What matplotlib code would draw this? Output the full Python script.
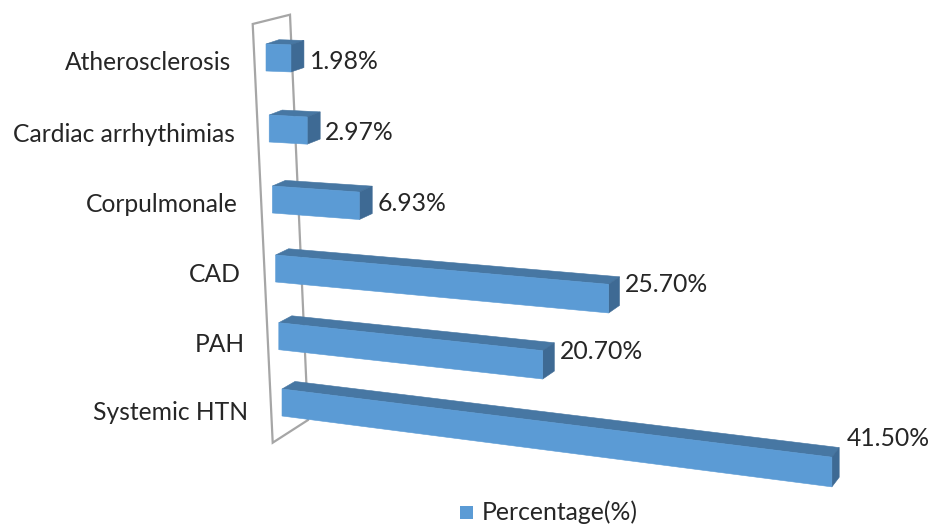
import matplotlib
matplotlib.use("Agg")
import matplotlib.pyplot as plt
from matplotlib.patches import Polygon, Rectangle

plt.rcParams["font.family"] = ["Lato", "DejaVu Sans"]

# bottom row first
categories = ["Systemic HTN", "PAH", "CAD", "Corpulmonale", "Cardiac arrhythimias", "Atherosclerosis"]
percentages = [41.50, 20.70, 25.70, 6.93, 2.97, 1.98]
value_labels = ["41.50%", "20.70%", "25.70%", "6.93%", "2.97%", "1.98%"]

FRONT = "#5B9BD5"
TOP = "#4777A3"
SIDE = "#3E6A94"
WALL = "#A6A6A6"
TEXT = "#262626"

# per-row geometry of the fake 3D view
ROW_Y = [389, 322.7, 255, 186, 115, 44]
ROW_SCALE = [13.25, 12.75, 12.96, 12.55, 12.8, 12.6]
NAME_Y = [412, 344, 275, 205, 134, 62]
LABEL_OFFSETS = [(8, -9), (6, 9), (5, 8), (5, 17), (5, 21), (6, 21)]


def project(value, row, depth=0.0, lower=0.0):
    # cheap perspective: the slope and the box get bigger toward the viewer
    scale = ROW_SCALE[row]
    slope = 0.124 - 0.018 * row
    x = 282 - 3.2 * row + scale * value
    y = ROW_Y[row] + slope * scale * value
    y += lower * (27 + 0.065 * value)
    x += depth * (13 - 0.0033 * value ** 2)
    y -= depth * (4.3 + 0.65 * (5 - row) + 0.05 * value)
    return x, y


def draw_bar(ax, value, row):
    front = [project(0, row), project(value, row), project(value, row, lower=1), project(0, row, lower=1)]
    top = [project(0, row), project(0, row, depth=1), project(value, row, depth=1), project(value, row)]
    side = [project(value, row), project(value, row, depth=1),
            project(value, row, depth=1, lower=1), project(value, row, lower=1)]
    ax.add_patch(Polygon(top, closed=True, fc=TOP, ec=TOP, lw=0.4, zorder=3))
    ax.add_patch(Polygon(side, closed=True, fc=SIDE, ec=SIDE, lw=0.4, zorder=3))
    ax.add_patch(Polygon(front, closed=True, fc=FRONT, ec=FRONT, lw=0.4, zorder=4))


def main():
    fig = plt.figure(figsize=(9.32, 5.25), dpi=100)
    ax = fig.add_axes([0, 0, 1, 1])
    ax.set_xlim(0, 932)
    ax.set_ylim(525, 0)
    ax.axis("off")

    # the category wall behind the bars
    wall = [(252.7, 24), (290, 14.7), (308, 420), (272.7, 442.7)]
    ax.add_patch(Polygon(wall, closed=True, fc="none", ec=WALL, lw=1.6, zorder=1))

    for row, (name, value, label) in enumerate(zip(categories, percentages, value_labels)):
        draw_bar(ax, value, row)

        ax.text(248 - 3.4 * row, NAME_Y[row], name, ha="right", va="center", fontsize=17.7, color=TEXT)

        x, y = project(value, row, depth=1)
        dx, dy = LABEL_OFFSETS[row]
        ax.text(x + dx, y + dy, label, ha="left", va="center", fontsize=17.8, color=TEXT, zorder=5)

    ax.add_patch(Rectangle((460, 506), 13, 13, fc=FRONT, ec="none"))
    ax.text(482, 512, "Percentage(%)", ha="left", va="center", fontsize=17.8, color=TEXT)

    fig.savefig("out.png", dpi=100)
    plt.close(fig)


if __name__ == "__main__":
    main()
